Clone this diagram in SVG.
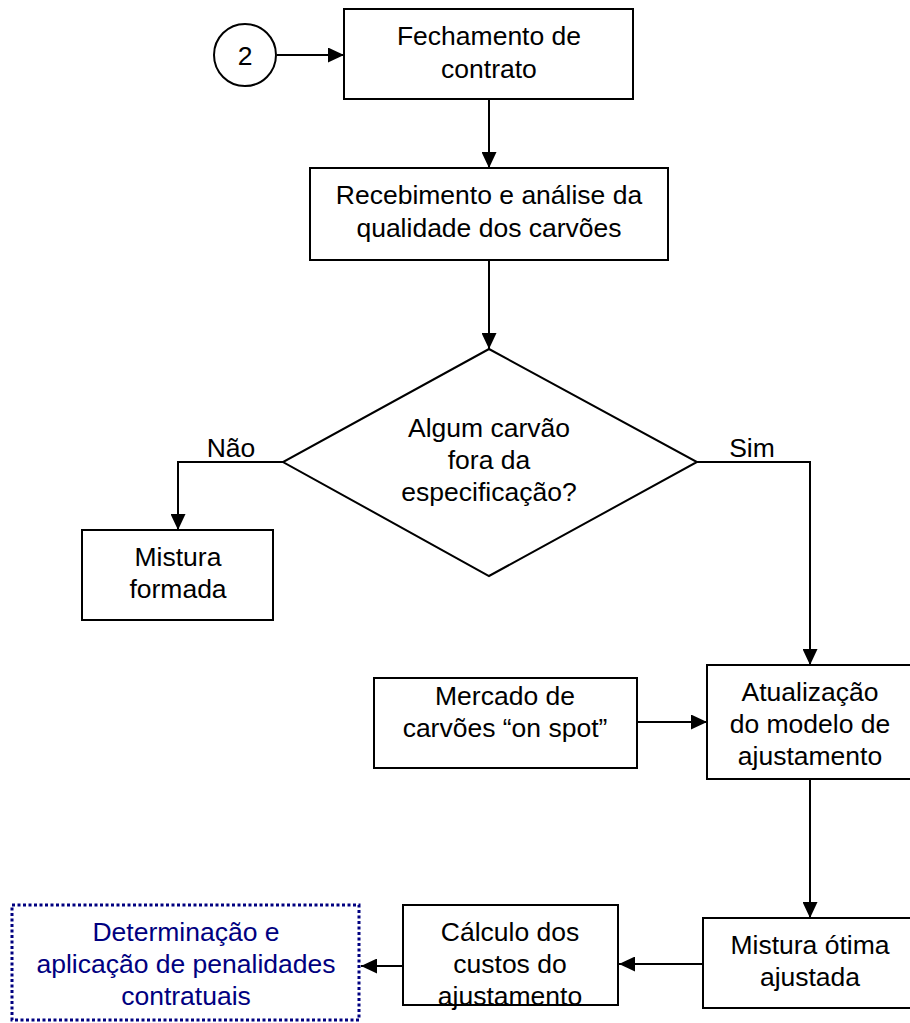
<svg xmlns="http://www.w3.org/2000/svg" width="910" height="1023" viewBox="0 0 910 1023">
<style>
.b{fill:#fff;stroke:#000;stroke-width:2}
.t{font-family:"Liberation Sans",Arial,sans-serif;font-size:26.5px;fill:#000;text-anchor:middle}
.n{fill:#000080}
.c{fill:none;stroke:#000;stroke-width:2}
</style>
<defs>
<marker id="a" markerWidth="16" markerHeight="15" refX="16" refY="7.5" orient="auto" markerUnits="userSpaceOnUse">
<path d="M0,0 L16,7.5 L0,15 Z" fill="#000"/>
</marker>
</defs>
<g id="connectors">
<path class="c" d="M277,55 H344" marker-end="url(#a)"/>
<path class="c" d="M489,99 V168" marker-end="url(#a)"/>
<path class="c" d="M489,260 V349" marker-end="url(#a)"/>
<path class="c" d="M283,462 H178 V530" marker-end="url(#a)"/>
<path class="c" d="M697,462 H810 V665" marker-end="url(#a)"/>
<path class="c" d="M637,722 H707" marker-end="url(#a)"/>
<path class="c" d="M810,779 V918" marker-end="url(#a)"/>
<path class="c" d="M703,964 H619" marker-end="url(#a)"/>
<path class="c" d="M403,966 H361" marker-end="url(#a)"/>
</g>
<g id="n2"><circle class="b" cx="245" cy="55" r="31"/><text class="t" x="245" y="65">2</text></g>
<g id="fechamento"><rect class="b" x="344" y="9" width="289" height="90"/><text class="t" x="489" y="45">Fechamento de</text><text class="t" x="489" y="78">contrato</text></g>
<g id="recebimento"><rect class="b" x="310" y="168" width="358" height="92"/><text class="t" x="489" y="204">Recebimento e análise da</text><text class="t" x="489" y="237">qualidade dos carvões</text></g>
<g id="decisao"><polygon class="b" points="489,349 697,462 489,576 283,462"/><text class="t" x="489" y="437">Algum carvão</text><text class="t" x="489" y="469">fora da</text><text class="t" x="489" y="501">especificação?</text></g>
<g id="lbl-nao"><text class="t" x="231" y="457">Não</text></g>
<g id="lbl-sim"><text class="t" x="752" y="457">Sim</text></g>
<g id="mistura-formada"><rect class="b" x="82" y="530" width="191" height="90"/><text class="t" x="178" y="566">Mistura</text><text class="t" x="178" y="598">formada</text></g>
<g id="mercado"><rect class="b" x="374" y="678" width="263" height="90"/><text class="t" x="505" y="705">Mercado de</text><text class="t" x="505" y="737">carvões “on spot”</text></g>
<g id="atualizacao"><rect class="b" x="707" y="665" width="205" height="114"/><text class="t" x="810" y="701">Atualização</text><text class="t" x="810" y="733">do modelo de</text><text class="t" x="810" y="765">ajustamento</text></g>
<g id="mistura-otima"><rect class="b" x="703" y="918" width="209" height="90"/><text class="t" x="810" y="954">Mistura ótima</text><text class="t" x="810" y="986">ajustada</text></g>
<g id="calculo"><rect class="b" x="403" y="905" width="215" height="100"/><text class="t" x="510" y="941">Cálculo dos</text><text class="t" x="510" y="973">custos do</text><text class="t" x="510" y="1005">ajustamento</text></g>
<g id="penalidades"><rect x="12" y="905" width="347" height="115" fill="#fff" stroke="#000080" stroke-width="3" stroke-dasharray="3 2.5"/><text class="t n" x="186" y="941">Determinação e</text><text class="t n" x="186" y="973">aplicação de penalidades</text><text class="t n" x="186" y="1005">contratuais</text></g>
</svg>
